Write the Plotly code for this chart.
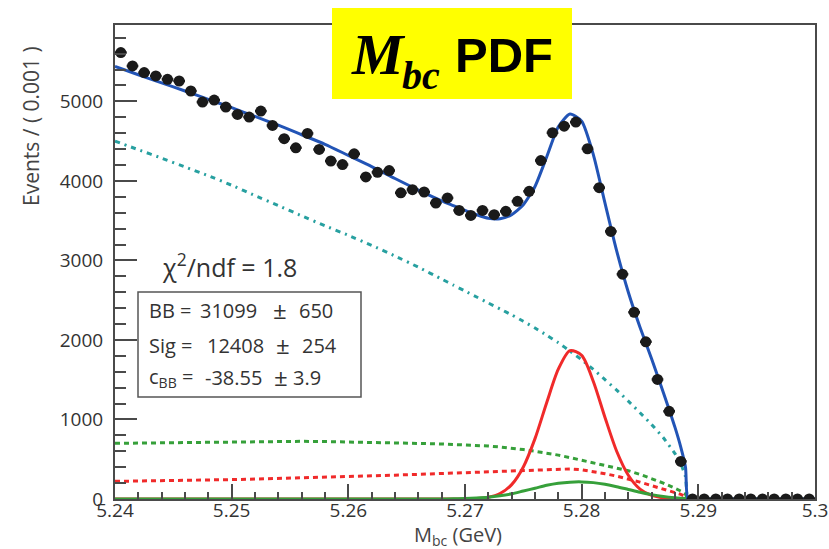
import plotly.graph_objects as go

# ---------------- data ----------------
# bin centres of the data histogram (bin width 0.001 GeV)
M_DATA = [round(5.2405 + 0.001 * i, 4) for i in range(60)]
EVENTS = [5614, 5445, 5362, 5319, 5277, 5256, 5130, 4991, 5016, 4928,
          4836, 4802, 4878, 4697, 4530, 4416, 4597, 4395, 4250, 4205,
          4340, 4050, 4108, 4130, 3850, 3890, 3860, 3722, 3786, 3629,
          3566, 3629, 3575, 3617, 3743, 3869, 4256, 4605, 4688, 4739,
          4404, 3915, 3365, 2827, 2348, 1977, 1503, 1103, 473, 0,
          0, 0, 0, 0, 0, 0, 0, 0, 0, 0]

# sample positions of the fitted curves
M_CURVE = [5.240, 5.242, 5.244, 5.246, 5.248, 5.250, 5.252, 5.254, 5.256, 5.258,
           5.260, 5.262, 5.264, 5.266, 5.268, 5.269, 5.270, 5.271, 5.272, 5.273,
           5.274, 5.275, 5.276, 5.277, 5.278, 5.279, 5.280, 5.281, 5.282, 5.283,
           5.284, 5.285, 5.286, 5.287, 5.288, 5.2885, 5.2889, 5.2891, 5.2895, 5.300]

TOTAL_FIT = [5438, 5335, 5232, 5130, 5025, 4920, 4810, 4700, 4580, 4460,
             4320, 4180, 4030, 3885, 3750, 3690, 3630, 3575, 3530, 3525,
             3575, 3700, 3930, 4300, 4680, 4840, 4750, 4330, 3720, 3120,
             2600, 2160, 1760, 1340, 900, 650, 400, 0, 0, 0]

CONTINUUM = [4500, 4392, 4285, 4175, 4065, 3945, 3815, 3690, 3560, 3435,
             3315, 3190, 3055, 2915, 2765, 2690, 2615, 2540, 2465, 2390,
             2315, 2235, 2150, 2060, 1965, 1860, 1750, 1630, 1500, 1370,
             1230, 1085, 935, 770, 570, 440, 280, 0, 0, 0]

BB_GREEN_DOT = [700, 704, 708, 712, 716, 719, 722, 724, 725, 722,
                718, 712, 706, 699, 692, 687, 682, 675, 666, 654,
                640, 621, 600, 577, 552, 520, 488, 457, 425, 392,
                355, 310, 255, 200, 135, 100, 60, 0, 0, 0]

BB_RED_DOT = [222, 225, 228, 233, 238, 244, 250, 257, 264, 272,
              280, 290, 300, 310, 320, 325, 330, 336, 342, 347,
              352, 358, 365, 372, 378, 378, 368, 346, 318, 288,
              254, 212, 168, 124, 80, 58, 30, 0, 0, 0]

SIGNAL = [0, 0, 0, 0, 0, 0, 0, 0, 0, 0,
          0, 0, 0, 0, 0, 0, 1, 6, 22, 69,
          181, 403, 759, 1210, 1632, 1866, 1805, 1478, 1025, 601,
          299, 125, 45, 14, 3, 1, 0, 0, 0, 0]

PEAKING_BB = [0, 0, 0, 0, 0, 0, 0, 0, 0, 0,
              0, 0, 0, 0, 0, 2, 5, 12, 22, 40,
              65, 100, 135, 172, 198, 212, 215, 206, 185, 155,
              120, 85, 55, 32, 16, 10, 6, 0, 0, 0]

X_TICKS = [5.24, 5.25, 5.26, 5.27, 5.28, 5.29, 5.30]
X_TICK_TEXT = ["5.24", "5.25", "5.26", "5.27", "5.28", "5.29", "5.3"]
Y_TICKS = [0, 1000, 2000, 3000, 4000, 5000]
Y_TICK_TEXT = ["0", "1000", "2000", "3000", "4000", "5000"]

FIT_LABELS = ["BB =", "Sig =", "c<sub>BB</sub> ="]
FIT_VALUES = ["31099", "12408", "-38.55"]
FIT_ERRORS = ["650", "254", "3.9"]

# ---------------- layout helpers ----------------
W, H = 829, 549
PL, PR, PT, PB = 115, 815, 25, 499


def px(x):
    return (x - PL) / (PR - PL)


def py(y):
    return (PB - y) / (PB - PT)


FONT = "Open Sans"
BLUE = "#2254b6"
RED = "#f02a2a"
GREEN = "#36a03a"
TEAL = "#27a0a0"
AX = "#4a4a4a"
TXT = "#333333"

fig = go.Figure()

fig.add_trace(go.Scatter(x=M_CURVE, y=CONTINUUM, mode="lines",
                         line=dict(color=TEAL, width=3, dash="5px,5px,2px,5px",
                                   shape="spline", smoothing=0.5)))
fig.add_trace(go.Scatter(x=M_CURVE, y=BB_GREEN_DOT, mode="lines",
                         line=dict(color=GREEN, width=3, dash="5px,4px")))
fig.add_trace(go.Scatter(x=M_CURVE, y=BB_RED_DOT, mode="lines",
                         line=dict(color=RED, width=3, dash="5px,4px")))
fig.add_trace(go.Scatter(x=M_CURVE, y=SIGNAL, mode="lines",
                         line=dict(color=RED, width=3, shape="spline", smoothing=0.8)))
fig.add_trace(go.Scatter(x=M_CURVE, y=PEAKING_BB, mode="lines",
                         line=dict(color=GREEN, width=3, shape="spline", smoothing=0.8)))
fig.add_trace(go.Scatter(x=M_CURVE, y=TOTAL_FIT, mode="lines",
                         line=dict(color=BLUE, width=3, shape="spline", smoothing=0.6)))
fig.add_trace(go.Scatter(x=M_DATA, y=EVENTS, mode="markers",
                         marker=dict(color="#1a1a1a", size=11),
                         error_x=dict(type="constant", value=0.0005, thickness=2.5,
                                      width=0, color="#1a1a1a")))

tick_font = dict(family=FONT, size=19, color=TXT)
fig.update_xaxes(range=[5.24, 5.30], tickvals=X_TICKS, ticktext=X_TICK_TEXT,
                 ticks="inside", ticklen=15, tickwidth=2, tickcolor=AX,
                 minor=dict(dtick=0.002, tick0=5.24, ticks="inside", ticklen=7,
                            tickwidth=1.5, tickcolor=AX),
                 showline=True, linecolor=AX, linewidth=2, mirror=True,
                 showgrid=False, zeroline=False, tickfont=tick_font,
                 ticklabelstandoff=-7, automargin=False)
fig.update_yaxes(range=[0, 5960], tickvals=Y_TICKS, ticktext=Y_TICK_TEXT,
                 ticks="inside", ticklen=22, tickwidth=2, tickcolor=AX,
                 minor=dict(dtick=200, tick0=0, ticks="inside", ticklen=11,
                            tickwidth=1.5, tickcolor=AX),
                 showline=True, linecolor=AX, linewidth=2, mirror=True,
                 showgrid=False, zeroline=False, tickfont=tick_font,
                 ticklabelstandoff=6, automargin=False)

shapes = [
    dict(type="rect", xref="paper", yref="paper",
         x0=px(138), x1=px(361), y0=py(397), y1=py(292),
         line=dict(color="#555555", width=1.5), fillcolor="white", layer="above"),
    dict(type="rect", xref="paper", yref="paper",
         x0=px(332), x1=px(572), y0=py(99), y1=py(8),
         line=dict(width=0), fillcolor="#ffff00", layer="above"),
]


def note(text, x, y, size, xanchor="left", family=FONT, color=TXT, angle=0):
    return dict(text=text, x=px(x), y=py(y), xref="paper", yref="paper",
                showarrow=False, xanchor=xanchor, yanchor="middle", textangle=angle,
                font=dict(family=family, size=size, color=color))


ann = []
# axis titles
ann.append(note("Events / ( 0.001 )", 31, 126, 21, xanchor="center", color="#444444", angle=-90))
ann.append(note("M<sub>bc</sub> (GeV)", 458, 535, 20, xanchor="center", color="#444444"))
# chi2
ann.append(note("χ<sup>2</sup>/ndf = 1.8", 160, 265, 25))
# fit result box
LINE_Y = [310, 345, 377]
VAL_X = [198, 205, 203]
PM_X = [271, 274, 272]
ERR_X = [297, 300, 291]
for k in range(3):
    ann.append(note(FIT_LABELS[k], 147, LINE_Y[k], 20))
    ann.append(note(FIT_VALUES[k], VAL_X[k], LINE_Y[k], 20))
    ann.append(note("±", PM_X[k], LINE_Y[k] - 1, 24))
    ann.append(note(FIT_ERRORS[k], ERR_X[k], LINE_Y[k], 20))
# title
ann.append(note("<b><i>M</i></b>", 349, 54, 58, family="Liberation Serif", color="black"))
ann.append(note("<b><i>bc</i></b>", 400, 75, 40, family="Liberation Serif", color="black"))
ann.append(note("<b>PDF</b>", 453, 55, 49, family="Liberation Sans", color="black"))

fig.update_layout(width=W, height=H, margin=dict(l=PL, r=W - PR, t=PT, b=H - PB),
                  paper_bgcolor="white", plot_bgcolor="white", showlegend=False,
                  shapes=shapes, annotations=ann)

POST = ("document.documentElement.style.margin='0';"
        "document.body.style.margin='0';document.body.style.padding='0';"
        "document.body.style.overflow='hidden';"
        "var gd=document.getElementById('{plot_id}');"
        "Plotly.relayout(gd,{width:829,height:549});")

fig.write_html("out.html", config={"responsive": False, "displayModeBar": False},
               post_script=POST)
